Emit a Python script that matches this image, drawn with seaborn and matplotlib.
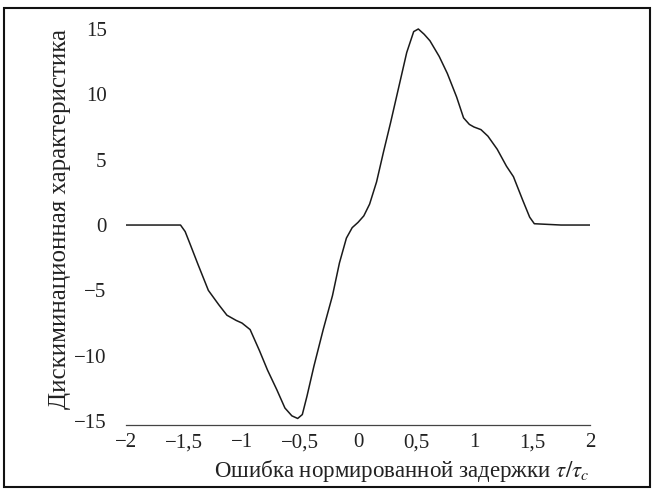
import matplotlib
matplotlib.use("Agg")
import matplotlib.pyplot as plt
import seaborn as sns
import pandas as pd
from matplotlib.patches import Rectangle

# Data
tau = [-2.0, -1.75, -1.53, -1.49, -1.45, -1.38, -1.29, -1.2, -1.13, -1.05, -1.0, -0.93,
       -0.85, -0.78, -0.7, -0.63, -0.57, -0.52, -0.48, -0.44, -0.38, -0.3, -0.22,
       -0.16, -0.1, -0.05, 0.0, 0.05, 0.1, 0.16, 0.22, 0.28, 0.35, 0.42, 0.48,
       0.52, 0.57, 0.62, 0.7, 0.77, 0.85, 0.91, 0.96, 1.0, 1.06, 1.12, 1.2,
       1.28, 1.34, 1.42, 1.48, 1.52, 1.75, 2.0]
disc = [0, 0, 0, -0.5, -1.4, -3.0, -5.0, -6.1, -6.9, -7.3, -7.5, -8.0,
        -9.6, -11.1, -12.6, -14.0, -14.6, -14.8, -14.5, -13.1, -10.8, -8.0, -5.4,
        -2.9, -1.0, -0.2, 0.2, 0.7, 1.6, 3.3, 5.6, 7.8, 10.5, 13.2, 14.8,
        15.0, 14.6, 14.1, 12.9, 11.6, 9.8, 8.2, 7.7, 7.5, 7.3, 6.8, 5.8,
        4.5, 3.7, 1.9, 0.6, 0.1, 0, 0]

xticks = [-2, -1.5, -1, -0.5, 0, 0.5, 1, 1.5, 2]
xticklabels = ["−2", "−1,5", "−1", "−0,5", "0", "0,5", "1", "1,5", "2"]
yticks = [-15, -10, -5, 0, 5, 10, 15]
yticklabels = ["−15", "−10", "−5", "0", "5", "10", "15"]

xlabel = r"Ошибка нормированной задержки $\tau/\tau_c$"
ylabel = "Дискиминационная характеристика"

sns.set_style("white")
plt.rcParams["font.family"] = ["Liberation Serif", "DejaVu Serif"]
plt.rcParams["mathtext.fontset"] = "stix"

df = pd.DataFrame({"tau": tau, "disc": disc})

fig = plt.figure(figsize=(6.55, 4.9), dpi=100)
ax = fig.add_axes([126 / 655, 1 - 425 / 490, (590 - 126) / 655, (425 - 12) / 490])

sns.lineplot(data=df, x="tau", y="disc", ax=ax, color="#1a1a1a", linewidth=1.1)

ax.set_xlim(-2, 2)
ax.set_ylim(-15.3, 16.3)
ax.set_xticks(xticks)
ax.set_xticklabels(xticklabels, fontsize=15)
ax.set_yticks(yticks)
ax.set_yticklabels(yticklabels, fontsize=15)
ax.tick_params(axis="both", length=0, pad=6, colors="#222222")
ax.tick_params(axis="y", pad=14)

for side in ["top", "right", "left"]:
    ax.spines[side].set_visible(False)
ax.spines["bottom"].set_color("#444444")
ax.spines["bottom"].set_linewidth(0.9)

ax.set_xlabel(xlabel, fontsize=16.5, loc="right", color="#222222", labelpad=4)
ax.set_ylabel(ylabel, fontsize=18, color="#222222", labelpad=2)

fig.patches.append(Rectangle((4 / 655, 1 - 487 / 490), 646 / 655, (487 - 8) / 490,
                             transform=fig.transFigure, fill=False,
                             edgecolor="#111111", linewidth=1.5))

fig.savefig("out.png", dpi=100)
